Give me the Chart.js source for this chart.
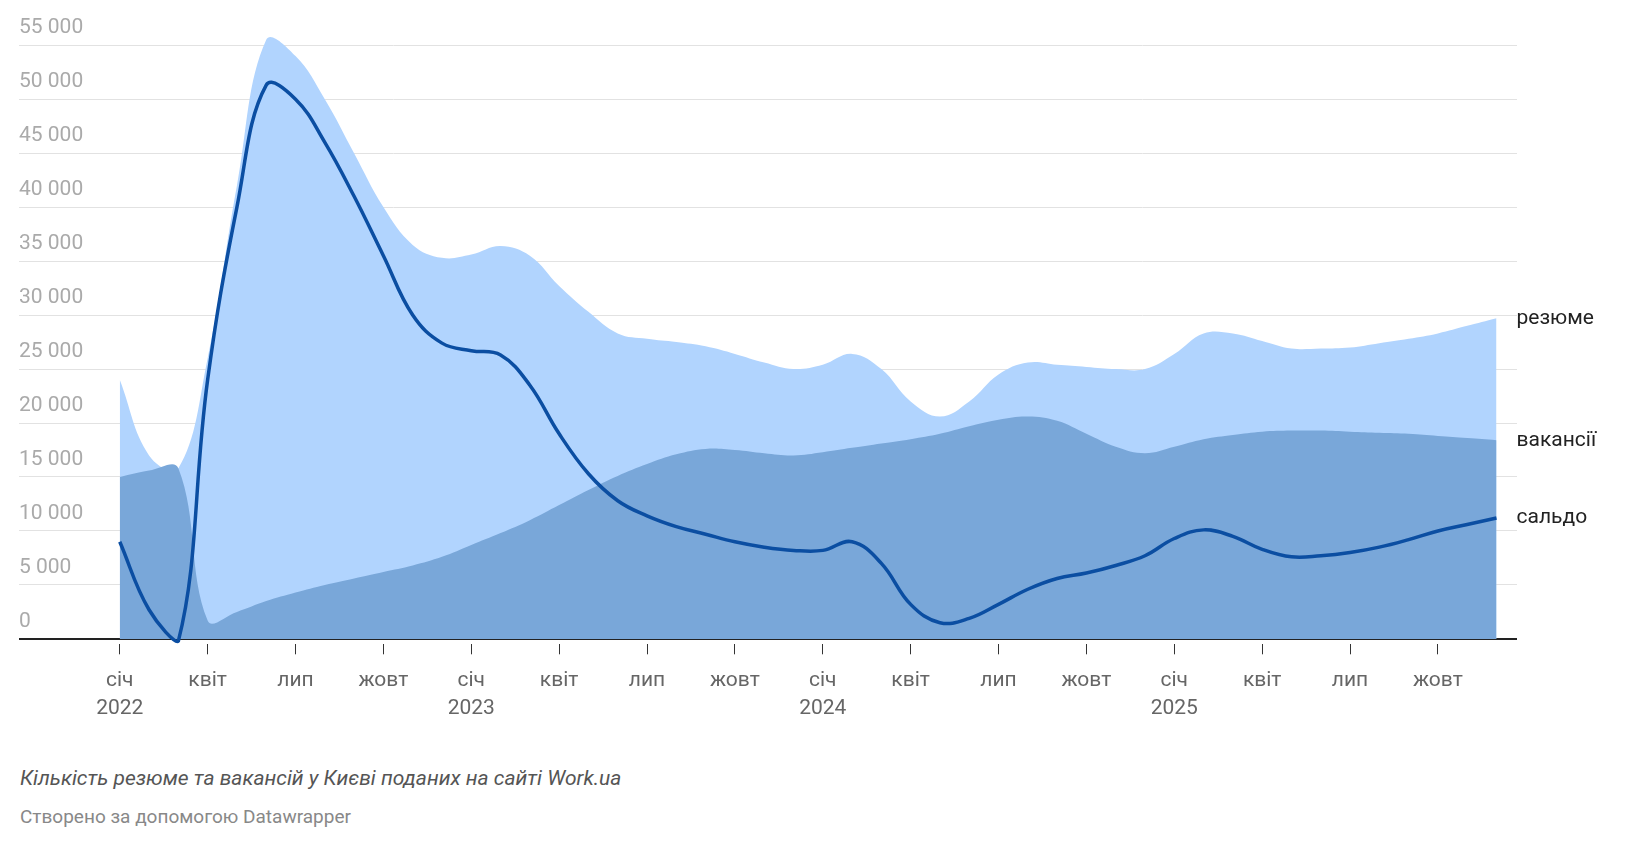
<!DOCTYPE html>
<html><head><meta charset="utf-8">
<script src="https://cdn.jsdelivr.net/npm/chart.js@4"></script>
<style>
body{margin:0;background:#fff;font-family:Roboto,sans-serif;width:1628px;height:850px;overflow:hidden}
#wrap{position:absolute;left:0;top:0;width:1628px;height:735px}
.cap{position:absolute;left:20px;top:766px;font-size:21px;font-style:italic;color:#555}
.src{position:absolute;left:20px;top:805px;font-size:19px;color:#888}
</style></head><body>
<div id="wrap"><canvas id="c"></canvas></div>
<div class="cap">Кількість резюме та вакансій у Києві поданих на сайті Work.ua</div>
<div class="src">Створено за допомогою Datawrapper</div>
<script>
const monthLabels=['січ','квіт','лип','жовт'];
const years=['2022','2023','2024','2025'];
const yTicks=[0,5000,10000,15000,20000,25000,30000,35000,40000,45000,50000,55000];
const resume=[24000,17000,15800,26000,42000,55500,54000,50000,45000,40000,36500,35300,
35600,36400,35500,32700,30300,28300,27800,27500,27100,26400,25600,25000,
25400,26400,25000,22000,20600,22000,24500,25600,25400,25200,25000,25000,
26400,28300,28300,27600,26900,26900,27000,27400,27800,28300,29000,29700];
const vacancies=[15000,15600,15800,1700,2500,3500,4300,5000,5600,6200,6800,7600,
8700,9800,11000,12400,13800,15100,16200,17100,17600,17500,17200,17000,
17300,17700,18100,18500,19000,19700,20300,20600,20200,19000,17800,17200,
17800,18500,18900,19200,19300,19300,19200,19100,19000,18800,18600,18400];
const saldo=[9000,2700,-200,24000,40000,51300,50000,46000,41000,35500,30000,27400,
26700,26300,23500,19000,15300,12800,11400,10400,9700,9000,8500,8200,
8200,9000,7000,3200,1500,1900,3200,4600,5600,6100,6800,7700,
9300,10100,9500,8300,7600,7700,8000,8500,9200,10000,10600,11200];
const seriesNames=['резюме','вакансії','сальдо'];
const pts=a=>a.map((v,i)=>({x:i,y:v}));
const fmt=v=>v===0?'0':String(v).replace(/\B(?=(\d{3})+(?!\d))/g,' ');
const endLabels={id:'endLabels',afterDatasetsDraw(ch){
 const c=ch.ctx,xs=ch.scales.x,ys=ch.scales.y;
 c.save();c.font='21px Roboto';c.fillStyle='#222';c.textBaseline='middle';
 const ly=[resume[47],vacancies[47],saldo[47]];
 seriesNames.forEach((n,k)=>c.fillText(n,xs.getPixelForValue(47)+20,ys.getPixelForValue(ly[k])));
 c.restore();}};
new Chart(document.getElementById('c'),{
 type:'line',
 data:{datasets:[
  {label:seriesNames[2],data:pts(saldo),borderColor:'#0b4ea2',borderWidth:3.5,fill:false,pointRadius:0,tension:0.4,order:0},
  {label:seriesNames[1],data:pts(vacancies),borderWidth:0,backgroundColor:'#79a7d9',fill:'origin',pointRadius:0,tension:0.4,order:1},
  {label:seriesNames[0],data:pts(resume),borderWidth:0,backgroundColor:'#b1d4fe',fill:'origin',pointRadius:0,tension:0.4,order:2}
 ]},
 options:{responsive:true,maintainAspectRatio:false,animation:false,
  layout:{padding:{left:19,right:111,top:29,bottom:0}},
  plugins:{legend:{display:false},tooltip:{enabled:false}},
  scales:{
   x:{type:'linear',min:-3.44,max:47.7,
    afterBuildTicks:s=>{s.ticks=[];for(let i=0;i<48;i+=3)s.ticks.push({value:i});},
    grid:{drawOnChartArea:false,color:'#333',tickLength:10,drawTicks:true},
    border:{display:false},
    ticks:{font:{family:'Roboto',size:21,lineHeight:1.35},color:'#666',padding:12,maxRotation:0,autoSkip:false,
     callback:v=>{const m=monthLabels[(v/3)%4];return (v%12===0)?[m,years[v/12]]:m;}}},
   y:{min:-500,max:56500,
    afterBuildTicks:s=>{s.ticks=yTicks.map(v=>({value:v}));},
    grid:{color:c=>c.tick&&c.tick.value===0?'#222':'#e2e2e2',lineWidth:c=>c.tick&&c.tick.value===0?2:1,drawTicks:false},
    border:{display:false},
    ticks:{mirror:true,padding:0,labelOffset:-17,font:{family:'Roboto',size:21},color:'#aaa',callback:v=>fmt(v)}}
  }},
 plugins:[endLabels]
});
</script></body></html>
